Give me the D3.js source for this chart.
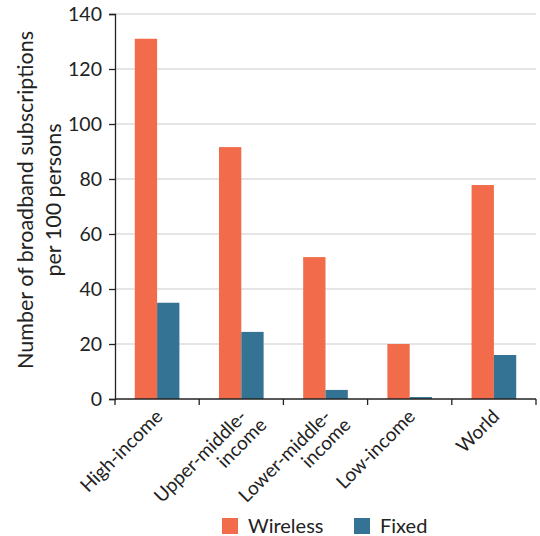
<!DOCTYPE html>
<html>
<head>
<meta charset="utf-8">
<script src="https://cdn.jsdelivr.net/npm/d3@7"></script>
<style>
  html, body { margin: 0; padding: 0; background: #fff; }
  text { font-family: Lato, "Open Sans", sans-serif; fill: #222; }
</style>
</head>
<body>
<svg id="chart" width="540" height="536"></svg>
<script>
const categories = ["High-income", "Upper-middle-\nincome", "Lower-middle-\nincome", "Low-income", "World"];
const seriesNames = ["Wireless", "Fixed"];
const wireless = [131, 91.6, 51.6, 20, 77.8];
const fixed = [35, 24.4, 3.3, 0.7, 16];
const yTicks = [0, 20, 40, 60, 80, 100, 120, 140];
const colors = ["#F26B4A", "#357394"];

(function () {
const svg = d3.select("#chart");
const mLeft = 115, mRight = 536, mTop = 14, mBottom = 399;

const x0 = d3.scaleBand().domain(categories).range([mLeft, mRight]).paddingInner(0.47).paddingOuter(0.235);
const x1 = d3.scaleBand().domain(seriesNames).range([0, x0.bandwidth()]);
const y = d3.scaleLinear().domain([0, 140]).range([mBottom, mTop]);
const color = d3.scaleOrdinal().domain(seriesNames).range(colors);

// gridlines
svg.append("g")
  .selectAll("line").data(yTicks.filter(d => d > 0)).join("line")
  .attr("x1", mLeft).attr("x2", mRight)
  .attr("y1", d => y(d)).attr("y2", d => y(d))
  .attr("stroke", "#cccccc").attr("stroke-width", 1.2);

const data = categories.map((c, i) => ({ cat: c, values: [wireless[i], fixed[i]] }));

svg.append("g").selectAll("g").data(data).join("g")
  .attr("transform", d => `translate(${x0(d.cat)},0)`)
  .selectAll("rect").data(d => seriesNames.map((s, j) => ({ s, v: d.values[j] }))).join("rect")
  .attr("x", d => x1(d.s)).attr("width", x1.bandwidth())
  .attr("y", d => y(d.v)).attr("height", d => y(0) - y(d.v))
  .attr("fill", d => color(d.s));

// y axis
const yAxis = svg.append("g").attr("transform", `translate(${mLeft},0)`)
  .call(d3.axisLeft(y).tickValues(yTicks).tickSize(6).tickPadding(7));
yAxis.select(".domain").attr("stroke", "#222").attr("stroke-width", 1.3);
yAxis.selectAll(".tick line").attr("stroke", "#222").attr("stroke-width", 1.3);
yAxis.selectAll(".tick text").style("font-size", "19.5px").style("font-family", "Lato, sans-serif").attr("fill", "#222");

// x axis
const xEdges = d3.range(categories.length + 1).map(i => mLeft + i * x0.step());
const xAxisG = svg.append("g");
xAxisG.append("line").attr("x1", mLeft).attr("x2", mRight).attr("y1", mBottom).attr("y2", mBottom)
  .attr("stroke", "#222").attr("stroke-width", 1.3);
xAxisG.selectAll("line.tk").data(xEdges).join("line").attr("class", "tk")
  .attr("x1", d => d).attr("x2", d => d).attr("y1", mBottom).attr("y2", mBottom + 6)
  .attr("stroke", "#222").attr("stroke-width", 1.3);

xAxisG.selectAll("text.xl").data(categories).join("text").attr("class", "xl")
  .attr("transform", d => `translate(${x0(d) + x0.bandwidth() / 2 + 2},${mBottom + 14}) rotate(-45)`)
  .attr("text-anchor", "end")
  .style("font-size", "19px")
  .each(function(d) {
    const lines = d.split("\n");
    const t = d3.select(this);
    lines.forEach((ln, i) => {
      t.append("tspan").attr("x", i === 0 ? 0 : 8).attr("dy", i === 0 ? "0.35em" : "1.05em").text(ln);
    });
  });

// y title
svg.append("text")
  .attr("transform", `translate(33,200) rotate(-90)`)
  .attr("text-anchor", "middle")
  .style("font-size", "21.5px")
  .selectAll("tspan").data(["Number of broadband subscriptions", "per 100 persons"]).join("tspan")
  .attr("x", 0).attr("dy", (d, i) => i === 0 ? 0 : 28).text(d => d);

// legend
const legend = svg.append("g").selectAll("g").data(seriesNames).join("g")
  .attr("transform", (d, i) => `translate(${222 + i * 132},518)`);
legend.append("rect").attr("width", 16).attr("height", 16).attr("fill", d => color(d));
legend.append("text").attr("x", 26).attr("y", 15).style("font-size", "20px").text(d => d);
})();
</script>
</body>
</html>
